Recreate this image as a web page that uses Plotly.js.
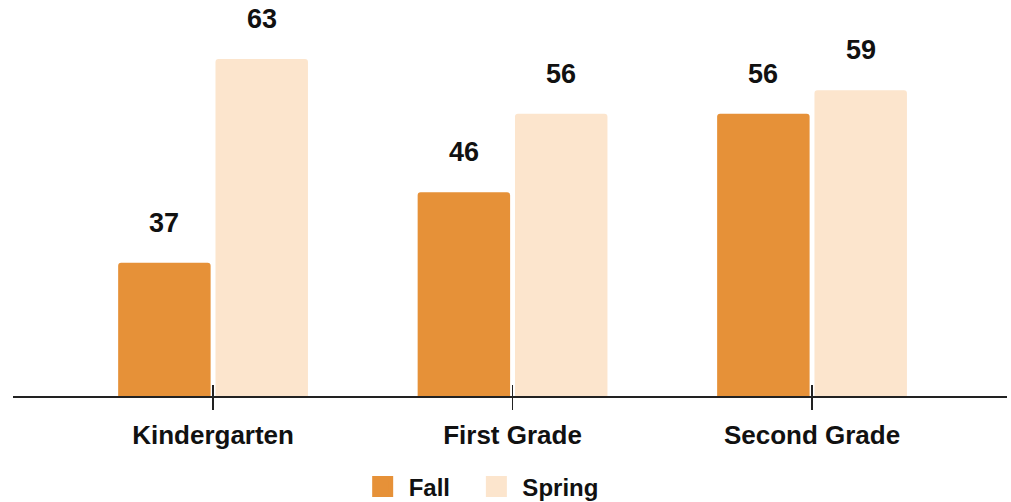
<!DOCTYPE html>
<html><head><meta charset="utf-8">
<script src="https://cdn.plot.ly/plotly-3.0.1.min.js"></script>
<style>html,body{margin:0;padding:0;background:#fff}#chart{width:1011px;height:502px}</style>
</head><body><div id="chart"></div>
<script>
const categories = ['Kindergarten', 'First Grade', 'Second Grade'];
const seriesNames = ['Fall', 'Spring'];
const fallValues = [37, 46, 56];
const springValues = [63, 56, 59];
const seriesColors = ['#E69138', '#FCE5CD'];

const FONT = 'Liberation Sans, Arial, Helvetica, sans-serif';
const seriesValues = [fallValues, springValues];
// trailing no-break spaces widen the gap between legend entries
const legendPad = ['\u00a0\u00a0\u200a', ''];

const traces = [];
seriesValues.forEach((vals, i) => {
  traces.push({
    type: 'bar', x: categories, y: vals, name: seriesNames[i],
    marker: {color: seriesColors[i]}, showlegend: false, hoverinfo: 'x+y'
  });
});
// legend proxies (bigger square symbols)
seriesValues.forEach((vals, i) => {
  traces.push({
    type: 'scatter', mode: 'markers', x: [categories[0]], y: [0], name: seriesNames[i] + legendPad[i],
    marker: {symbol: 'square', size: 16, color: seriesColors[i], line: {color: seriesColors[i], width: 5}},
    hoverinfo: 'skip', cliponaxis: true
  });
});
// invisible trace carrying the upper half of the crossing ticks
traces.push({
  type: 'scatter', mode: 'markers', x: categories, y: [0, 0, 0], xaxis: 'x2',
  marker: {opacity: 0}, showlegend: false, hoverinfo: 'skip'
});

const annotations = [];
const slotShift = 48.7;
seriesValues.forEach((vals, i) => {
  vals.forEach((v, j) => {
    annotations.push({
      x: categories[j], y: v, xref: 'x', yref: 'y', text: String(v), showarrow: false,
      xshift: (i === 0 ? -1 : 1) * slotShift, yshift: 40, yanchor: 'middle',
      font: {family: FONT, size: 27, color: '#111', weight: 'bold'}
    });
  });
});

const layout = {
  width: 1011, height: 502,
  margin: {l: 13, r: 4, t: 4, b: 106, autoexpand: false},
  paper_bgcolor: '#ffffff', plot_bgcolor: '#ffffff',
  barmode: 'group', bargap: 0.35, bargroupgap: 0.05, barcornerradius: 3,
  xaxis: {
    type: 'category', categoryorder: 'array', categoryarray: categories,
    range: [-0.668, 2.651], showline: true, linecolor: '#222', linewidth: 1.5,
    ticks: 'outside', ticklen: 12, tickwidth: 1.5, tickcolor: '#222',
    tickfont: {family: FONT, size: 26, color: '#111', weight: 'bold'},
    ticklabelstandoff: 3,
    showgrid: false, zeroline: false, fixedrange: true, automargin: false
  },
  xaxis2: {
    type: 'category', categoryorder: 'array', categoryarray: categories,
    overlaying: 'x', matches: 'x', anchor: 'y', side: 'bottom',
    ticks: 'inside', ticklen: 11, tickwidth: 1.5, tickcolor: '#222',
    showticklabels: false, showline: false, showgrid: false, zeroline: false
  },
  yaxis: {range: [20, 70], visible: false, showgrid: false, zeroline: false, fixedrange: true},
  legend: {
    orientation: 'h', x: 0.470, xanchor: 'center', y: -0.232, yanchor: 'middle',
    font: {family: FONT, size: 24, color: '#111', weight: 'bold'},
    itemwidth: 42,
    bgcolor: 'rgba(0,0,0,0)', traceorder: 'normal'
  },
  annotations: annotations,
  showlegend: true
};

Plotly.newPlot('chart', traces, layout, {displayModeBar: false, staticPlot: true});
</script>
</body></html>
